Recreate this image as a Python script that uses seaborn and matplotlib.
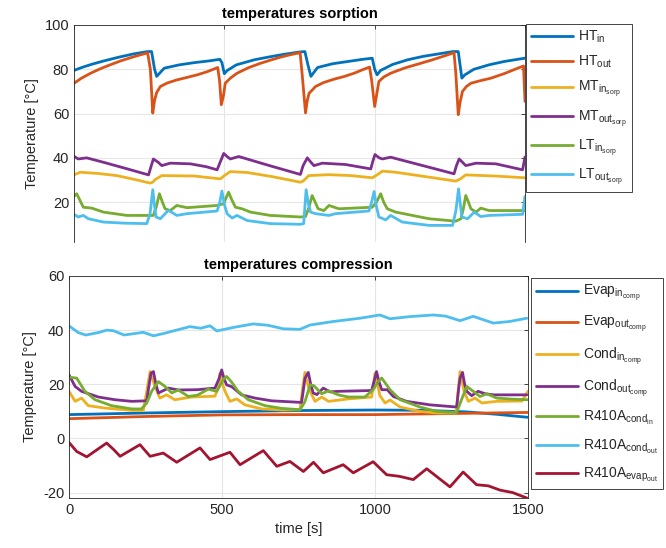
#Temperatures of sorption and compression circuits
import numpy as np
import pandas as pd
import matplotlib
matplotlib.use('Agg')
import matplotlib.pyplot as plt
import seaborn as sns

# ---- sorption side (top) ----
t_ht_in = [0, 30, 60, 100, 150, 200, 245, 258, 268, 275, 300, 350, 400, 450, 485, 492, 500, 510, 540, 600,
           650, 700, 750, 768, 778, 788, 810, 860, 910, 960, 992, 1000, 1008, 1020, 1060, 1110, 1160, 1210,
           1260, 1278, 1290, 1300, 1330, 1380, 1430, 1480, 1500]
ht_in = [79.5, 81, 82.3, 83.8, 85.5, 87, 88, 88, 80, 76.8, 80.5, 82, 83, 83.8, 84.5, 83, 78, 79.5, 82, 84.3,
         85.6, 86.8, 87.8, 88, 82, 76.8, 80.8, 82.5, 83.5, 84.5, 85, 80, 77.5, 79.5, 82.2, 84.3, 85.8, 86.9,
         88, 88, 76, 77.5, 80, 82, 83.5, 84.6, 85]

t_ht_out = [0, 25, 55, 90, 120, 155, 190, 220, 245, 254, 262, 268, 275, 287, 310, 342, 375, 410, 445, 478,
            484, 490, 497, 503, 520, 542, 580, 620, 655, 690, 720, 752, 760, 770, 776, 782, 795, 803, 830,
            864, 900, 931, 960, 983, 990, 1000, 1006, 1014, 1030, 1053, 1100, 1153, 1190, 1231, 1264, 1270,
            1278, 1284, 1292, 1305, 1320, 1350, 1387, 1430, 1476, 1495, 1500]
ht_out = [73.7, 76, 78.2, 80.4, 82, 83.8, 85.3, 86.5, 87.4, 80, 60.2, 66, 69.5, 72.2, 73.8, 75.2, 76.3, 77.5,
          79, 80.8, 75, 64, 68, 73.7, 76, 78.2, 80.7, 82.7, 84.2, 85.6, 86.6, 87.5, 76, 60.3, 66, 69.2, 71,
          72.2, 74, 75.5, 76.8, 78.2, 79.8, 81, 75, 63.2, 68, 74.5, 76.5, 78.2, 80.6, 82.7, 84.2, 86, 87.5,
          78, 59.5, 65, 70, 72.2, 73.7, 74.8, 76, 78, 80.5, 81.5, 65.5]

t_mt_in = [0, 20, 76, 142, 200, 253, 262, 270, 292, 400, 487, 500, 520, 576, 660, 753, 762, 781, 848, 920,
           992, 1010, 1026, 1070, 1170, 1270, 1285, 1303, 1400, 1500]
mt_in = [32.3, 33.5, 33, 32, 30.3, 28.6, 29, 30.2, 32, 31.8, 30.5, 32, 33.8, 33.4, 31.5, 29, 29.5, 32, 32.4, 32,
         31, 32.5, 34, 33.5, 31.5, 29.5, 30.5, 32.3, 31.8, 31]

t_mt_out = [0, 14, 42, 98, 170, 248, 256, 264, 280, 292, 320, 387, 440, 476, 486, 498, 510, 520, 548, 650,
            753, 762, 776, 788, 798, 826, 903, 987, 994, 1001, 1015, 1026, 1053, 1160, 1264, 1272, 1281, 1292,
            1303, 1337, 1403, 1492, 1500]
mt_out = [40.7, 39.5, 40, 38, 35.3, 32.3, 36, 39.5, 38, 36.5, 37.6, 37.3, 36, 34.6, 38, 42, 40.5, 39.5, 40.6,
          36.5, 32.5, 36.5, 40, 38, 36.5, 37.6, 37, 35, 38.5, 41.5, 40, 39.5, 40.3, 36.5, 32.8, 36.5, 39.5,
          38, 36.5, 37.6, 37.3, 34.6, 40.4]

t_lt_in = [0, 9, 31, 59, 98, 176, 264, 274, 284, 294, 303, 320, 342, 376, 476, 498, 506, 514, 525, 537, 559,
           587, 653, 753, 770, 780, 792, 802, 812, 831, 848, 881, 992, 1006, 1020, 1030, 1042, 1070, 1181,
           1270, 1287, 1295, 1303, 1312, 1320, 1337, 1353, 1381, 1500]
lt_in = [22.6, 23.8, 17.7, 17.3, 15.5, 14, 14, 18, 23.8, 20, 17, 16.2, 18.5, 17.5, 18.5, 19.3, 22, 24.5, 21,
         17.7, 17, 15.5, 14, 13.3, 13.5, 17, 23, 20, 17, 16.2, 18.5, 17, 17.7, 20, 23.8, 20, 17, 15.5, 12.5,
         11.4, 12.5, 17, 23, 20, 17, 15.5, 17.3, 16.2, 16.2]

t_lt_out = [0, 14, 31, 48, 98, 170, 242, 253, 262, 268, 273, 287, 314, 342, 376, 476, 485, 492, 500, 509,
            526, 542, 576, 653, 753, 764, 772, 780, 787, 803, 848, 870, 981, 990, 998, 1006, 1014, 1037, 1053,
            1092, 1181, 1259, 1270, 1279, 1285, 1290, 1309, 1331, 1353, 1381, 1492, 1500]
lt_out = [14.5, 13.3, 14, 12.5, 11, 10.5, 10.3, 14.8, 25.6, 18, 13.3, 12.5, 16.3, 14, 14.8, 16, 20, 25, 19,
          14.8, 12.8, 14, 11.7, 10.3, 10, 10.3, 25.6, 19, 15.5, 14.8, 14, 14.8, 16, 20, 24.8, 18, 13.3, 12,
          14, 11, 9.5, 9.5, 16, 26, 19, 13.3, 12.5, 15.5, 13.5, 14, 14.5, 22.6]

# ---- compression side (bottom) ----
t_evap_in = [0, 250, 500, 750, 1000, 1150, 1300, 1400, 1500]
evap_in = [8.8, 9.4, 9.9, 10.3, 10.5, 10.4, 9.8, 8.9, 7.8]

t_evap_out = [0, 250, 500, 750, 1000, 1250, 1500]
evap_out = [7.3, 8.1, 8.7, 8.8, 8.8, 9.2, 9.6]

t_cond_in = [0, 20, 41, 63, 118, 205, 243, 255, 265, 281, 297, 319, 346, 401, 477, 488, 493, 502, 510, 526,
             548, 575, 630, 700, 755, 763, 771, 780, 788, 804, 826, 848, 913, 989, 995, 1000, 1008, 1016,
             1033, 1049, 1082, 1147, 1202, 1265, 1272, 1278, 1291, 1305, 1327, 1349, 1398, 1480, 1500]
cond_in = [17.4, 13.7, 14.9, 12.1, 11.2, 10.4, 10.4, 18, 24.7, 19.2, 14.9, 16.1, 14.3, 15.3, 15.6, 19, 24.1,
           20, 17.4, 13.7, 14.6, 12.4, 10.9, 10.5, 10.6, 18, 24.4, 20, 17.4, 13.7, 15.3, 13.7, 14.6, 15.3, 20,
           24.1, 20, 15.8, 13.1, 14.2, 11.6, 10, 9.4, 9.4, 18, 24.7, 17.4, 13.7, 14.9, 13.1, 13.7, 13.8, 17.4]

t_cond_out = [0, 20, 41, 96, 150, 205, 254, 262, 268, 276, 284, 292, 305, 325, 357, 420, 477, 490, 499, 507,
              515, 532, 564, 608, 662, 760, 766, 771, 782, 790, 798, 810, 831, 853, 880, 989, 997, 1005, 1013,
              1022, 1040, 1060, 1103, 1180, 1267, 1273, 1278, 1286, 1293, 1300, 1316, 1337, 1360, 1387, 1496]
cond_out = [23.5, 19.2, 17.4, 15.3, 14.3, 13.7, 13.9, 20, 24.1, 24.7, 20, 16.8, 17.5, 18.6, 17.9, 18, 18.6,
            22, 25.3, 22, 19.8, 19.1, 16.1, 14.9, 13.9, 13.3, 18, 22.2, 24.4, 20, 16.8, 16.2, 18.6, 17.2,
            17.4, 17.7, 21, 24.7, 21, 18, 18, 15.5, 13.7, 12.4, 11.6, 18, 22.3, 24.4, 20, 17.4, 15.8, 17.4,
            16.5, 16.1, 16.1]

t_r_cond_in = [0, 25, 52, 85, 139, 205, 237, 254, 270, 292, 314, 336, 357, 390, 420, 455, 483, 504, 515, 530,
               553, 586, 641, 695, 755, 771, 788, 800, 826, 848, 880, 913, 967, 994, 1010, 1022, 1049, 1082,
               1147, 1202, 1267, 1285, 1300, 1320, 1343, 1365, 1398, 1450, 1500]
r_cond_in = [22.6, 22.3, 17.4, 14.3, 12.1, 10.9, 10.9, 13.1, 17.4, 21, 19.2, 16.8, 17.9, 15.5, 16, 18.2, 17.4,
             21.7, 22.9, 21, 17.4, 14.3, 12.1, 11.1, 10.6, 13.6, 19.8, 19.5, 16.5, 17.6, 16.1, 15.3, 15.3, 18,
             21, 22.3, 18, 14.3, 11.6, 10, 9.6, 15, 19.2, 17.5, 15.5, 16.5, 14.9, 14.5, 14.3]

t_r_cond_out = [0, 30, 55, 96, 123, 145, 180, 243, 276, 314, 341, 395, 430, 461, 483, 537, 602, 650, 700, 755,
                788, 864, 951, 1016, 1049, 1114, 1190, 1230, 1278, 1321, 1387, 1440, 1496]
r_cond_out = [41.6, 39.1, 38.2, 39.1, 40, 39.8, 38.2, 39.2, 37.9, 38.9, 39.7, 41.3, 40.7, 41.6, 39.7, 41, 42.3,
              41.8, 40.5, 40.3, 41.9, 43.2, 44.4, 45.6, 44.2, 45, 45.6, 45.2, 43.5, 45.1, 42.6, 43.2, 44.4]

t_r_evap_out = [0, 25, 58, 123, 145, 167, 232, 265, 308, 352, 428, 461, 526, 559, 635, 679, 722, 766, 799, 831,
                896, 929, 994, 1038, 1080, 1125, 1169, 1245, 1288, 1332, 1370, 1409, 1450, 1496]
r_evap_out = [-1.5, -4.8, -6.8, -1.7, -4, -6.6, -2.3, -6.6, -5.4, -8.8, -3.5, -7.8, -5.1, -9.7, -4.5, -10.3,
              -8.5, -12.2, -8.8, -12.7, -9.7, -12.7, -8.6, -13.4, -14, -15.2, -11.2, -17.9, -12.4, -17.1,
              -17.5, -19.1, -20, -22]

matlab_colors = ['#0072BD', '#D95319', '#EDB120', '#7E2F8E', '#77AC30', '#4DBEEE', '#A2142F']

top_series = [
    (t_ht_in, ht_in, r'HT$_{\mathrm{in}}$'),
    (t_ht_out, ht_out, r'HT$_{\mathrm{out}}$'),
    (t_mt_in, mt_in, r'MT$_{\mathrm{in}_{\mathrm{sorp}}}$'),
    (t_mt_out, mt_out, r'MT$_{\mathrm{out}_{\mathrm{sorp}}}$'),
    (t_lt_in, lt_in, r'LT$_{\mathrm{in}_{\mathrm{sorp}}}$'),
    (t_lt_out, lt_out, r'LT$_{\mathrm{out}_{\mathrm{sorp}}}$'),
]
bottom_series = [
    (t_evap_in, evap_in, r'Evap$_{\mathrm{in}_{\mathrm{comp}}}$'),
    (t_evap_out, evap_out, r'Evap$_{\mathrm{out}_{\mathrm{comp}}}$'),
    (t_cond_in, cond_in, r'Cond$_{\mathrm{in}_{\mathrm{comp}}}$'),
    (t_cond_out, cond_out, r'Cond$_{\mathrm{out}_{\mathrm{comp}}}$'),
    (t_r_cond_in, r_cond_in, r'R410A$_{\mathrm{cond}_{\mathrm{in}}}$'),
    (t_r_cond_out, r_cond_out, r'R410A$_{\mathrm{cond}_{\mathrm{out}}}$'),
    (t_r_evap_out, r_evap_out, r'R410A$_{\mathrm{evap}_{\mathrm{out}}}$'),
]

sns.set_style('white')
plt.rcParams['font.family'] = ['Liberation Sans', 'DejaVu Sans']
plt.rcParams['mathtext.fontset'] = 'custom'
plt.rcParams['mathtext.rm'] = 'Liberation Sans'
plt.rcParams['mathtext.it'] = 'Liberation Sans'
plt.rcParams['axes.unicode_minus'] = False

txt = '#262626'
fig = plt.figure(figsize=(6.66, 5.48), dpi=100)
ax1 = fig.add_axes([74/666, 1-242/548, 451/666, 217/548])
ax2 = fig.add_axes([69/666, 1-498/548, 459/666, 222/548])

for i, (t, y, lab) in enumerate(top_series):
    sns.lineplot(x=t, y=y, ax=ax1, color=matlab_colors[i], linewidth=2, label=lab)
for i, (t, y, lab) in enumerate(bottom_series):
    sns.lineplot(x=t, y=y, ax=ax2, color=matlab_colors[i], linewidth=2, label=lab)

for ax in (ax1, ax2):
    ax.set_xlim(0, 1500)
    ax.set_xticks([0, 500, 1000, 1500])
    ax.grid(True, color='#e6e6e6', linewidth=0.8)
    ax.set_axisbelow(True)
    ax.tick_params(direction='in', length=3, colors=txt, labelsize=10.5, top=True, right=True,
                   labelcolor=txt, width=0.6)
    for s in ax.spines.values():
        s.set_color('#262626')
        s.set_linewidth(0.6)
    ax.set_ylabel('Temperature [°C]', fontsize=10.5, color=txt)

ax1.set_ylim(2, 100)
ax1.set_yticks([20, 40, 60, 80, 100])
ax1.spines['bottom'].set_visible(False)
ax1.tick_params(bottom=False, labelbottom=False)
ax1.set_xlabel('')
ax1.set_title('temperatures sorption', fontsize=10.5, fontweight='bold', color='black', pad=5)

ax2.set_ylim(-22, 60)
ax2.set_yticks([-20, 0, 20, 40, 60])
ax2.set_xlabel('time [s]', fontsize=10.5, color=txt)
ax2.set_title('temperatures compression', fontsize=10.5, fontweight='bold', color='black', pad=5)

leg_kw = dict(loc='upper left', bbox_transform=fig.transFigure, frameon=True, fancybox=False,
              fontsize=10, handlelength=3.0, borderaxespad=0, borderpad=0.35,
              handletextpad=0.4)
l1 = ax1.legend(bbox_to_anchor=(526/666, 1-24/548), labelspacing=0.62, **leg_kw)
l2 = ax2.legend(bbox_to_anchor=(531/666, 1-278/548), labelspacing=0.75, **leg_kw)
for lg in (l1, l2):
    lg.get_frame().set_edgecolor('#262626')
    lg.get_frame().set_linewidth(0.6)
    lg.get_frame().set_alpha(1)
    for line in lg.get_lines():
        line.set_linewidth(2)

fig.savefig('out.png', dpi=100)
plt.close()
